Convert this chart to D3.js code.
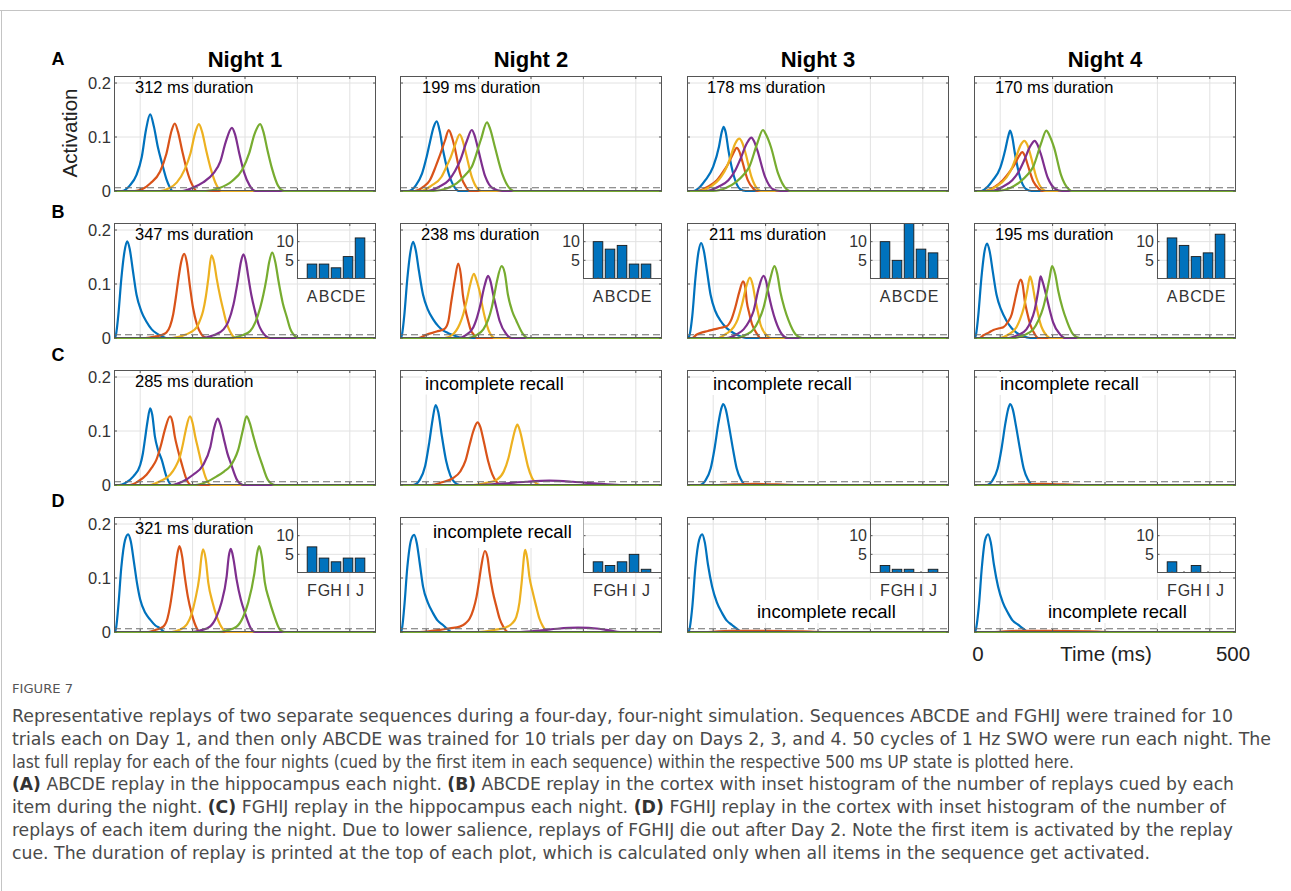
<!DOCTYPE html>
<html><head><meta charset="utf-8">
<script src="https://cdn.jsdelivr.net/npm/d3@7"></script>
<style>
html,body{margin:0;padding:0;background:#fff;}
svg{display:block;}
text{white-space:pre;}
</style></head><body>
<svg id="fig" width="1291" height="891"></svg>
<script>
// ---------------- data ----------------
const nights = ["Night 1","Night 2","Night 3","Night 4"];
const rowLetters = ["A","B","C","D"];
const yTickValues = [0, 0.1, 0.2];
const yTickLabels = ["0","0.1","0.2"];
const xGridValues = [50,150,250,350,450];
const insetTickValues = [5,10];
const insetTickLabels = ["5","10"];
const itemsABCDE = ["A","B","C","D","E"];
const itemsFGHIJ = ["F","G","H","I","J"];
const notesA = ["312 ms duration","199 ms duration","178 ms duration","170 ms duration"];
const notesB = ["347 ms duration","238 ms duration","211 ms duration","195 ms duration"];
const notesC = ["285 ms duration","incomplete recall","incomplete recall","incomplete recall"];
const notesD = ["321 ms duration","incomplete recall","incomplete recall","incomplete recall"];
const histB = [[4,4,3,6,11],[10,8,9,4,4],[10,5,16,8,7],[11,9,6,7,12]];
const histD = [[7,4,3,4,4],[3,2,3,5,1],[2,1,1,0,1],[3,0,2,0,0]];
const threshold = 0.006;
const FLAT = [[0,0],[500,0]];

// curves: [blue, red, yellow, purple, green], points [time ms, activation]
const curvesA1 = [
 [[0,0],[15,0],[30,0.01],[43,0.03],[53,0.063],[61,0.113],[69,0.142],[76,0.12],[84,0.08],[92,0.05],[100,0.022],[106,0.008],[112,0],[500,0]],
 [[0,0],[40,0],[55,0.004],[69,0.014],[88,0.036],[100,0.069],[110,0.112],[116,0.125],[122,0.11],[130,0.075],[139,0.039],[150,0.01],[158,0],[500,0]],
 [[0,0],[88,0],[105,0.005],[120,0.016],[135,0.04],[146,0.07],[155,0.108],[162,0.124],[168,0.11],[176,0.075],[185,0.04],[196,0.01],[205,0],[500,0]],
 [[0,0],[130,0],[150,0.006],[170,0.016],[190,0.033],[203,0.055],[213,0.09],[225,0.117],[231,0.105],[239,0.07],[248,0.035],[259,0.01],[270,0],[500,0]],
 [[0,0],[175,0],[200,0.005],[225,0.018],[245,0.04],[258,0.07],[268,0.105],[279,0.124],[285,0.11],[293,0.075],[302,0.04],[313,0.01],[325,0],[500,0]]
];
const curvesA2 = [
 [[0,0],[15,0],[30,0.01],[42,0.032],[50,0.06],[57,0.09],[64,0.118],[70,0.129],[76,0.11],[82,0.076],[93,0.032],[104,0.007],[112,0],[500,0]],
 [[0,0],[28,0],[45,0.008],[57,0.02],[68,0.045],[75,0.063],[86,0.094],[93,0.113],[99,0.1],[104,0.082],[115,0.032],[126,0.007],[133,0],[500,0]],
 [[0,0],[40,0],[60,0.01],[79,0.026],[90,0.048],[97,0.063],[106,0.088],[114,0.105],[120,0.092],[126,0.069],[137,0.026],[148,0.004],[155,0],[500,0]],
 [[0,0],[50,0],[75,0.008],[93,0.02],[105,0.037],[115,0.057],[128,0.094],[137,0.113],[142,0.104],[148,0.082],[163,0.026],[177,0.005],[195,0],[500,0]],
 [[0,0],[64,0],[90,0.005],[108,0.014],[125,0.03],[137,0.045],[154,0.094],[166,0.127],[172,0.115],[181,0.082],[195,0.032],[210,0.004],[217,0],[500,0]]
];
const curvesA3 = [
 [[0,0],[12,0],[25,0.008],[35,0.02],[50,0.045],[61,0.082],[66,0.108],[70,0.119],[74,0.108],[79,0.076],[90,0.026],[101,0.004],[112,0],[500,0]],
 [[0,0],[20,0],[40,0.008],[57,0.02],[72,0.04],[79,0.051],[88,0.069],[95,0.08],[100,0.073],[105,0.057],[116,0.02],[127,0.004],[134,0],[500,0]],
 [[0,0],[20,0],[45,0.008],[65,0.026],[76,0.045],[83,0.063],[92,0.088],[100,0.097],[106,0.088],[112,0.069],[123,0.026],[134,0.004],[141,0],[500,0]],
 [[0,0],[35,0],[60,0.008],[79,0.02],[92,0.038],[101,0.057],[114,0.088],[123,0.099],[128,0.092],[134,0.076],[149,0.026],[163,0.004],[178,0],[500,0]],
 [[0,0],[50,0],[75,0.006],[94,0.017],[108,0.03],[119,0.045],[134,0.088],[145,0.113],[151,0.104],[160,0.082],[174,0.032],[189,0.004],[196,0],[500,0]]
];
const curvesA4 = [
 [[0,0],[14,0],[26,0.008],[36,0.02],[50,0.043],[60,0.078],[65,0.1],[69,0.112],[73,0.1],[78,0.07],[88,0.025],[99,0.004],[110,0],[500,0]],
 [[0,0],[20,0],[40,0.008],[55,0.02],[70,0.038],[78,0.05],[86,0.065],[92,0.072],[97,0.065],[102,0.05],[113,0.018],[124,0.004],[130,0],[500,0]],
 [[0,0],[20,0],[42,0.008],[62,0.025],[73,0.044],[80,0.062],[89,0.085],[96,0.093],[102,0.085],[108,0.066],[119,0.025],[130,0.004],[137,0],[500,0]],
 [[0,0],[32,0],[55,0.008],[73,0.02],[86,0.037],[95,0.055],[108,0.084],[116,0.093],[121,0.086],[127,0.07],[141,0.024],[155,0.004],[168,0],[500,0]],
 [[0,0],[45,0],[70,0.006],[88,0.017],[102,0.03],[113,0.045],[128,0.088],[138,0.112],[144,0.103],[153,0.08],[166,0.03],[180,0.004],[186,0],[500,0]]
];
const curvesB1 = [
 [[0,0],[3,0.003],[8,0.04],[14,0.11],[20,0.16],[25,0.179],[30,0.165],[36,0.125],[43,0.08],[52,0.05],[62,0.03],[72,0.016],[82,0.008],[92,0.003],[100,0],[500,0]],
 [[0,0],[60,0],[80,0.003],[92,0.006],[100,0.01],[107,0.022],[113,0.044],[118,0.075],[123,0.11],[128,0.14],[134,0.156],[139,0.14],[145,0.095],[151,0.055],[158,0.026],[166,0.008],[177,0],[500,0]],
 [[0,0],[110,0],[130,0.004],[145,0.01],[158,0.02],[165,0.035],[170,0.05],[175,0.075],[180,0.11],[186,0.153],[191,0.14],[196,0.11],[203,0.075],[209,0.05],[215,0.027],[221,0.013],[232,0],[500,0]],
 [[0,0],[165,0],[190,0.005],[209,0.016],[218,0.03],[228,0.062],[237,0.11],[242,0.14],[247,0.155],[252,0.14],[256,0.115],[262,0.08],[269,0.05],[276,0.025],[282,0.013],[298,0],[500,0]],
 [[0,0],[220,0],[245,0.005],[260,0.013],[270,0.03],[279,0.056],[285,0.08],[291,0.11],[296,0.14],[302,0.158],[308,0.14],[314,0.105],[322,0.065],[330,0.038],[336,0.018],[342,0.007],[352,0],[500,0]]
];
const curvesB2 = [
 [[0,0],[3,0.003],[8,0.04],[14,0.11],[20,0.16],[25,0.178],[30,0.163],[36,0.125],[44,0.08],[53,0.053],[63,0.035],[73,0.022],[82,0.014],[92,0.009],[102,0.005],[120,0],[500,0]],
 [[0,0],[35,0],[50,0.006],[70,0.012],[85,0.017],[92,0.03],[98,0.068],[105,0.11],[111,0.138],[116,0.118],[120,0.08],[125,0.052],[130,0.032],[135,0.015],[140,0.007],[147,0],[500,0]],
 [[0,0],[85,0],[100,0.006],[114,0.026],[121,0.045],[127,0.068],[134,0.099],[141,0.119],[146,0.107],[152,0.086],[157,0.06],[162,0.038],[171,0.01],[181,0],[500,0]],
 [[0,0],[110,0],[125,0.005],[140,0.02],[146,0.035],[152,0.056],[162,0.099],[168,0.115],[173,0.104],[178,0.08],[184,0.055],[190,0.032],[203,0.007],[213,0],[500,0]],
 [[0,0],[130,0],[145,0.005],[159,0.016],[168,0.033],[175,0.056],[180,0.08],[185,0.105],[194,0.133],[200,0.12],[206,0.08],[214,0.05],[222,0.032],[235,0.007],[244,0],[500,0]]
];
const curvesB3 = [
 [[0,0],[4,0.003],[10,0.04],[16,0.11],[22,0.16],[27,0.176],[32,0.162],[38,0.125],[45,0.08],[54,0.05],[64,0.032],[74,0.02],[83,0.013],[95,0.006],[113,0],[500,0]],
 [[0,0],[10,0],[18,0.006],[25,0.009],[40,0.013],[51,0.016],[65,0.019],[76,0.022],[85,0.035],[92,0.056],[100,0.086],[107,0.105],[111,0.095],[114,0.068],[119,0.045],[124,0.026],[134,0.007],[140,0],[500,0]],
 [[0,0],[60,0],[75,0.008],[89,0.02],[97,0.035],[105,0.062],[113,0.095],[120,0.112],[125,0.1],[131,0.068],[136,0.045],[140,0.026],[153,0.004],[160,0],[500,0]],
 [[0,0],[75,0],[95,0.007],[108,0.016],[118,0.03],[127,0.05],[137,0.093],[146,0.115],[151,0.105],[156,0.08],[162,0.055],[169,0.032],[181,0.007],[192,0],[500,0]],
 [[0,0],[95,0],[112,0.006],[127,0.016],[137,0.033],[146,0.056],[153,0.085],[159,0.11],[167,0.133],[172,0.12],[178,0.086],[186,0.055],[194,0.032],[207,0.007],[220,0],[500,0]]
];
const curvesB4 = [
 [[0,0],[3,0.003],[8,0.04],[14,0.11],[20,0.16],[25,0.175],[30,0.16],[36,0.122],[43,0.08],[52,0.052],[62,0.032],[72,0.018],[81,0.01],[92,0.004],[107,0],[500,0]],
 [[0,0],[10,0],[18,0.005],[28,0.01],[37,0.015],[48,0.018],[56,0.02],[65,0.03],[72,0.044],[77,0.065],[81,0.083],[89,0.108],[93,0.098],[97,0.068],[102,0.045],[107,0.026],[116,0.007],[123,0],[500,0]],
 [[0,0],[50,0],[65,0.006],[81,0.02],[88,0.035],[95,0.056],[102,0.09],[107,0.114],[111,0.102],[116,0.074],[121,0.05],[126,0.029],[139,0.004],[145,0],[500,0]],
 [[0,0],[65,0],[85,0.006],[100,0.016],[108,0.03],[116,0.053],[123,0.09],[127,0.114],[131,0.104],[139,0.074],[145,0.05],[151,0.029],[164,0.007],[174,0],[500,0]],
 [[0,0],[75,0],[95,0.005],[113,0.016],[123,0.033],[132,0.056],[139,0.085],[144,0.11],[149,0.133],[155,0.118],[161,0.086],[169,0.055],[177,0.032],[189,0.007],[202,0],[500,0]]
];
const curvesC1 = [
 [[0,0],[10,0],[22,0.004],[37,0.016],[50,0.037],[55,0.058],[59,0.084],[64,0.118],[69,0.142],[73,0.13],[78,0.09],[84,0.065],[91,0.047],[100,0.016],[110,0],[500,0]],
 [[0,0],[30,0],[45,0.006],[62,0.019],[72,0.032],[81,0.047],[90,0.075],[97,0.102],[107,0.127],[112,0.115],[116,0.09],[122,0.065],[129,0.04],[139,0.009],[148,0],[500,0]],
 [[0,0],[68,0],[88,0.007],[107,0.019],[117,0.033],[126,0.053],[132,0.078],[137,0.102],[145,0.127],[150,0.115],[155,0.09],[161,0.065],[167,0.04],[177,0.009],[186,0],[500,0]],
 [[0,0],[110,0],[130,0.006],[151,0.019],[170,0.037],[184,0.071],[191,0.105],[198,0.123],[203,0.112],[210,0.084],[216,0.06],[223,0.04],[235,0.009],[247,0],[500,0]],
 [[0,0],[155,0],[175,0.005],[196,0.016],[210,0.025],[221,0.034],[230,0.048],[237,0.065],[246,0.102],[253,0.127],[259,0.115],[266,0.09],[274,0.063],[282,0.04],[294,0.009],[307,0],[500,0]]
];
const curvesC2 = [
 [[0,0],[25,0],[38,0.01],[48,0.035],[56,0.08],[62,0.12],[68,0.148],[73,0.135],[80,0.09],[88,0.045],[96,0.018],[104,0.005],[114,0],[500,0]],
 [[0,0],[60,0],[80,0.005],[100,0.012],[115,0.025],[125,0.045],[133,0.075],[140,0.1],[148,0.116],[153,0.108],[160,0.08],[168,0.045],[176,0.02],[184,0.006],[192,0],[500,0]],
 [[0,0],[140,0],[165,0.004],[185,0.01],[198,0.025],[207,0.05],[214,0.08],[219,0.1],[224,0.112],[229,0.1],[236,0.07],[244,0.035],[252,0.013],[260,0.003],[268,0],[500,0]],
 [[0,0],[150,0],[200,0.003],[240,0.006],[285,0.008],[330,0.006],[370,0.003],[420,0],[500,0]],
 FLAT
];
const curvesC3 = [
 [[0,0],[25,0],[35,0.008],[45,0.03],[53,0.07],[60,0.115],[65,0.14],[69,0.15],[74,0.14],[80,0.11],[88,0.065],[95,0.03],[103,0.01],[112,0],[500,0]],
 [[0,0],[60,0],[90,0.001],[130,0.002],[170,0.001],[210,0],[500,0]],
 FLAT, FLAT, FLAT
];
const curvesC4 = [
 [[0,0],[25,0],[35,0.008],[45,0.03],[53,0.07],[60,0.115],[65,0.14],[69,0.15],[74,0.14],[80,0.11],[88,0.065],[95,0.03],[103,0.01],[112,0],[500,0]],
 [[0,0],[60,0],[90,0.001],[130,0.002],[170,0.001],[210,0],[500,0]],
 FLAT, FLAT, FLAT
];
const curvesD1 = [
 [[0,0],[3,0.003],[8,0.045],[14,0.12],[21,0.17],[27,0.181],[32,0.168],[38,0.13],[44,0.09],[50,0.06],[60,0.035],[69,0.023],[79,0.012],[88,0.007],[97,0],[500,0]],
 [[0,0],[65,0],[80,0.004],[94,0.01],[102,0.025],[107,0.048],[112,0.08],[116,0.109],[121,0.145],[125,0.159],[130,0.14],[135,0.103],[141,0.065],[148,0.035],[158,0.007],[164,0],[500,0]],
 [[0,0],[110,0],[125,0.004],[139,0.014],[148,0.033],[155,0.06],[163,0.103],[167,0.14],[170,0.153],[175,0.135],[180,0.091],[188,0.055],[196,0.029],[209,0.004],[215,0],[500,0]],
 [[0,0],[150,0],[165,0.003],[183,0.01],[195,0.027],[205,0.054],[215,0.103],[219,0.14],[223,0.154],[228,0.135],[234,0.097],[242,0.06],[250,0.035],[263,0.004],[269,0],[500,0]],
 [[0,0],[200,0],[215,0.003],[234,0.01],[246,0.027],[256,0.054],[268,0.109],[273,0.145],[277,0.159],[282,0.14],[288,0.091],[296,0.06],[304,0.035],[317,0.004],[326,0],[500,0]]
];
const curvesD2 = [
 [[0,0],[3,0.003],[8,0.045],[14,0.12],[21,0.17],[27,0.18],[32,0.165],[38,0.125],[44,0.084],[53,0.055],[63,0.035],[72,0.021],[82,0.013],[90,0.006],[98,0],[500,0]],
 [[0,0],[38,0],[60,0.002],[76,0.004],[95,0.007],[114,0.01],[125,0.016],[133,0.025],[140,0.042],[146,0.065],[151,0.095],[155,0.121],[162,0.15],[167,0.138],[171,0.109],[177,0.075],[184,0.047],[190,0.025],[197,0.01],[206,0],[500,0]],
 [[0,0],[150,0],[180,0.004],[203,0.009],[214,0.016],[222,0.028],[228,0.055],[232,0.09],[239,0.152],[243,0.135],[247,0.102],[253,0.075],[260,0.047],[266,0.025],[273,0.01],[282,0],[500,0]],
 [[0,0],[230,0],[270,0.003],[300,0.006],[340,0.008],[380,0.006],[400,0.003],[420,0],[500,0]],
 FLAT
];
const curvesD3 = [
 [[0,0],[4,0.003],[10,0.045],[16,0.12],[23,0.17],[29,0.181],[34,0.166],[40,0.125],[48,0.084],[57,0.055],[67,0.035],[76,0.021],[86,0.013],[95,0.006],[105,0],[500,0]],
 [[0,0],[40,0],[80,0.002],[150,0.002],[220,0.001],[260,0],[500,0]],
 FLAT, FLAT, FLAT
];
const curvesD4 = [
 [[0,0],[3,0.003],[9,0.045],[15,0.12],[21,0.17],[27,0.181],[32,0.166],[38,0.125],[46,0.084],[55,0.055],[65,0.035],[74,0.021],[85,0.013],[94,0.006],[104,0],[500,0]],
 [[0,0],[40,0],[80,0.002],[150,0.002],[220,0.001],[260,0],[500,0]],
 FLAT, FLAT, FLAT
];

const captionLines = [
 [["Representative replays of two separate sequences during a four-day, four-night simulation. Sequences ABCDE and FGHIJ were trained for 10",0]],
 [["trials each on Day 1, and then only ABCDE was trained for 10 trials per day on Days 2, 3, and 4. 50 cycles of 1 Hz SWO were run each night. The",0]],
 [["last full replay for each of the four nights (cued by the first item in each sequence) within the respective 500 ms UP state is plotted here.",0]],
 [["(A)",1],[" ABCDE replay in the hippocampus each night. ",0],["(B)",1],[" ABCDE replay in the cortex with inset histogram of the number of replays cued by each",0]],
 [["item during the night. ",0],["(C)",1],[" FGHIJ replay in the hippocampus each night. ",0],["(D)",1],[" FGHIJ replay in the cortex with inset histogram of the number of",0]],
 [["replays of each item during the night. Due to lower salience, replays of FGHIJ die out after Day 2. Note the first item is activated by the replay",0]],
 [["cue. The duration of replay is printed at the top of each plot, which is calculated only when all items in the sequence get activated.",0]]
];

// ---------------- layout / style ----------------
const seriesColors = ["#0072BD","#D95319","#EDB120","#7E2F8E","#77AC30"];
const colLeft = [114, 400, 687, 974], W = 262;
const rowTop = [76, 223, 370, 517], H = 115;
const letterBase = [65, 218, 361, 507];
const noteOffsets = [
  [[21,16.5],[22,16.5],[20,16.5],[21,16.5]],
  [[21,16.5],[21,16.5],[22,16.5],[21,16.5]],
  [[21,16.5],[25,19.5],[26,20],[26,20]],
  [[21,16.5],[33,21],[70,101],[74,101]]
];
const captionEnds = [1233,1271,1074,1234,1226,1233,1150];
const FONT = "'Liberation Sans', Arial, Helvetica, sans-serif";
const CAPFONT = "'Liberation Sans Narrow','DejaVu Sans Condensed','Roboto','Liberation Sans',sans-serif";

const panels = [
  [curvesA1,curvesA2,curvesA3,curvesA4],
  [curvesB1,curvesB2,curvesB3,curvesB4],
  [curvesC1,curvesC2,curvesC3,curvesC4],
  [curvesD1,curvesD2,curvesD3,curvesD4]
];
const notes = [notesA,notesB,notesC,notesD];

const svg = d3.select("#fig");
svg.append("rect").attr("width",1291).attr("height",891).attr("fill","#fff");
// frame
svg.append("line").attr("x1",0).attr("x2",1291).attr("y1",10.5).attr("y2",10.5).attr("stroke","#c4c4c4");
svg.append("line").attr("x1",1.5).attr("x2",1.5).attr("y1",10).attr("y2",891).attr("stroke","#c4c4c4");

const defs = svg.append("defs");
const yScale0 = [0, 0.213];

nights.forEach((n,c)=>{
  svg.append("text").attr("x",colLeft[c]+W/2).attr("y",67).attr("text-anchor","middle")
    .attr("font-family",FONT).attr("font-weight","bold").attr("font-size",22).attr("fill","#000").text(n);
});
rowLetters.forEach((l,r)=>{
  svg.append("text").attr("x",58).attr("y",letterBase[r]).attr("text-anchor","middle")
    .attr("font-family",FONT).attr("font-weight","bold").attr("font-size",18).attr("fill","#000").text(l);
});

for(let r=0;r<4;r++){
  for(let c=0;c<4;c++){
    const L = colLeft[c], T = rowTop[r];
    const x = d3.scaleLinear().domain([0,500]).range([L, L+W]);
    const y = d3.scaleLinear().domain(yScale0).range([T+H, T]);
    const g = svg.append("g");
    const cid = `clip${r}${c}`;
    defs.append("clipPath").attr("id",cid).append("rect")
      .attr("x",L).attr("y",T-1).attr("width",W).attr("height",H+3);
    // grid
    g.selectAll(".vg").data(xGridValues).enter().append("line")
      .attr("x1",d=>x(d)).attr("x2",d=>x(d)).attr("y1",T).attr("y2",T+H)
      .attr("stroke","#e2e2e2").attr("stroke-width",1);
    g.selectAll(".hg").data(yTickValues.filter(v=>v>0)).enter().append("line")
      .attr("x1",L).attr("x2",L+W).attr("y1",d=>y(d)).attr("y2",d=>y(d))
      .attr("stroke","#e2e2e2").attr("stroke-width",1);
    // curves
    const line = d3.line().x(d=>x(d[0])).y(d=>y(d[1])).curve(d3.curveMonotoneX);
    const cg = g.append("g").attr("clip-path",`url(#${cid})`);
    panels[r][c].forEach((pts,i)=>{
      cg.append("path").attr("d",line(pts)).attr("fill","none")
        .attr("stroke",seriesColors[i]).attr("stroke-width",2.2).attr("stroke-linejoin","round");
    });
    // threshold
    g.append("line").attr("x1",L).attr("x2",L+W).attr("y1",y(threshold)).attr("y2",y(threshold))
      .attr("stroke","#6e6e6e").attr("stroke-width",1.2).attr("stroke-dasharray","7,4");
    // box
    g.append("rect").attr("x",L+0.5).attr("y",T+0.5).attr("width",W-1).attr("height",H-1)
      .attr("fill","none").attr("stroke","#555").attr("stroke-width",1);
    // ticks
    xGridValues.forEach(v=>{
      g.append("line").attr("x1",x(v)).attr("x2",x(v)).attr("y1",T+H).attr("y2",T+H-3).attr("stroke","#555");
      g.append("line").attr("x1",x(v)).attr("x2",x(v)).attr("y1",T).attr("y2",T+3).attr("stroke","#555");
    });
    yTickValues.forEach(v=>{
      g.append("line").attr("x1",L).attr("x2",L+3).attr("y1",y(v)).attr("y2",y(v)).attr("stroke","#555");
      g.append("line").attr("x1",L+W-3).attr("x2",L+W).attr("y1",y(v)).attr("y2",y(v)).attr("stroke","#555");
    });
    if(c===0){
      yTickValues.forEach((v,i)=>{
        svg.append("text").attr("x",L-3).attr("y",y(v)).attr("dy","0.36em").attr("text-anchor","end")
          .attr("font-family",FONT).attr("font-size",16.5).attr("fill","#333").text(yTickLabels[i]);
      });
    }
    // inset histogram
    const hist = r===1 ? histB[c] : (r===3 ? histD[c] : null);
    if(hist){
      const items = r===1 ? itemsABCDE : itemsFGHIJ;
      const iw = 79, ih = 56, IL = L+W-iw;
      const ix = d3.scaleLinear().domain([-0.25,6.33]).range([IL, IL+iw]);
      const iy = d3.scaleLinear().domain([0,15]).range([T+ih, T]);
      const ig = svg.append("g");
      const icid = `iclip${r}${c}`;
      defs.append("clipPath").attr("id",icid).append("rect").attr("x",IL).attr("y",T).attr("width",iw).attr("height",ih);
      insetTickValues.forEach(v=>{
        ig.append("line").attr("x1",IL).attr("x2",IL+iw).attr("y1",iy(v)).attr("y2",iy(v)).attr("stroke","#e2e2e2");
      });
      ig.append("g").attr("clip-path",`url(#${icid})`).selectAll("rect").data(hist.map((v,i)=>[i,v]).filter(d=>d[1]>0)).enter()
        .append("rect").attr("x",d=>ix(d[0]+1)-4.8).attr("width",9.6)
        .attr("y",d=>iy(d[1])).attr("height",d=>iy(0)-iy(d[1]))
        .attr("fill","#0072BD").attr("stroke","#1a1a1a").attr("stroke-width",0.9);
      ig.append("rect").attr("x",IL+0.5).attr("y",T+0.5).attr("width",iw-1).attr("height",ih-1)
        .attr("fill","none").attr("stroke","#555");
      insetTickValues.forEach(v=>{
        ig.append("line").attr("x1",IL).attr("x2",IL+2.5).attr("y1",iy(v)).attr("y2",iy(v)).attr("stroke","#555");
        ig.append("line").attr("x1",IL+iw-2.5).attr("x2",IL+iw).attr("y1",iy(v)).attr("y2",iy(v)).attr("stroke","#555");
      });
      items.forEach((it,i)=>{
        ig.append("line").attr("x1",ix(i+1)).attr("x2",ix(i+1)).attr("y1",T+ih).attr("y2",T+ih-2).attr("stroke","#555");
        ig.append("text").attr("x",ix(i+1)).attr("y",T+ih+23).attr("text-anchor","middle")
          .attr("font-family",FONT).attr("font-size",16).attr("fill","#333").text(it);
      });
      const hideLabels = (r===3 && c===1);
      if(!hideLabels){
        insetTickValues.forEach((v,i)=>{
          ig.append("text").attr("x",IL-3).attr("y",iy(v)).attr("dy","0.36em").attr("text-anchor","end")
            .attr("font-family",FONT).attr("font-size",16).attr("fill","#333").text(insetTickLabels[i]);
        });
      }
    }
    // note text
    const txt = notes[r][c];
    const off = noteOffsets[r][c];
    const isInc = txt.startsWith("incomplete");
    const t = svg.append("text").attr("x",L+off[0]).attr("y",T+off[1])
      .attr("font-family",FONT).attr("font-size",isInc?18.5:16.5).attr("fill","#000").text(txt);
    if(isInc){
      const bb = t.node().getBBox();
      let x0 = bb.x-3, x1 = bb.x+bb.width+3, y0 = bb.y-1, y1 = bb.y+bb.height+1;
      if(r===3 && c===1){ x0 = L+20; x1 = L+W-78.5; y0 = T+1; y1 = T+31; }
      svg.insert("rect", function(){ return t.node(); })
        .attr("x",x0).attr("y",y0).attr("width",x1-x0).attr("height",y1-y0).attr("fill","#fff");
    }
  }
}

// axis labels
svg.append("text").attr("transform","translate(70,133) rotate(-90)").attr("text-anchor","middle")
  .attr("dy","0.36em").attr("font-family",FONT).attr("font-size",20.5).attr("fill","#222").text("Activation");
svg.append("text").attr("x",978).attr("y",661).attr("text-anchor","middle")
  .attr("font-family",FONT).attr("font-size",20.5).attr("fill","#222").text("0");
svg.append("text").attr("x",1106).attr("y",661).attr("text-anchor","middle")
  .attr("font-family",FONT).attr("font-size",20.5).attr("fill","#222").text("Time (ms)");
svg.append("text").attr("x",1233).attr("y",661).attr("text-anchor","middle")
  .attr("font-family",FONT).attr("font-size",20.5).attr("fill","#222").text("500");

// caption
svg.append("text").attr("x",12).attr("y",693).attr("font-family",CAPFONT).attr("font-size",12.5)
  .attr("fill","#555").attr("textLength",61).attr("lengthAdjust","spacingAndGlyphs").text("FIGURE 7");
captionLines.forEach((segs,i)=>{
  const t = svg.append("text").attr("x",12).attr("y",722+i*22.8)
    .attr("font-family",CAPFONT).attr("font-size",17.5).attr("fill","#4a4a4a")
    .attr("textLength",captionEnds[i]-12).attr("lengthAdjust","spacingAndGlyphs");
  segs.forEach(s=>{
    t.append("tspan").attr("font-weight",s[1]?"bold":"normal").attr("fill",s[1]?"#333":"#4a4a4a").text(s[0]);
  });
});
</script>
</body></html>
